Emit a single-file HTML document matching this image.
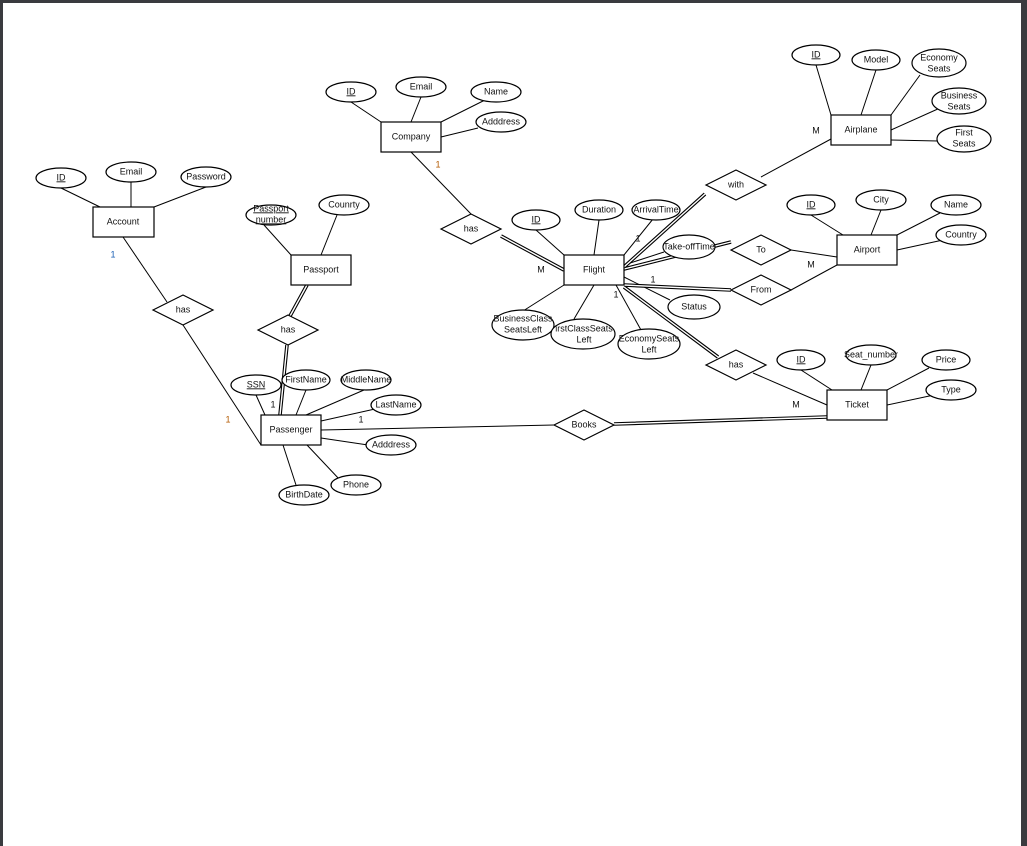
<!DOCTYPE html>
<html><head><meta charset="utf-8"><style>
html,body{margin:0;padding:0;background:#3a3b3f;}
svg{display:block;}
text{font-family:"Liberation Sans",sans-serif;font-size:9px;fill:#111;text-anchor:middle;dominant-baseline:middle;}
.e{fill:#fff;stroke:#000;stroke-width:1.2;}
.r{fill:#fff;stroke:#000;stroke-width:1.2;}
.l{stroke:#000;stroke-width:1;fill:none;}
.d1{stroke:#000;stroke-width:3.6;fill:none;}
.d2{stroke:#fff;stroke-width:1.4;fill:none;}
.b{fill:#1a5fb4;}
.o{fill:#b35900;}
</style></head><body>
<svg width="1027" height="846" viewBox="0 0 1027 846" xmlns="http://www.w3.org/2000/svg">
<rect x="3" y="3" width="1018" height="843" fill="#fff"/>
<!-- single lines -->
<g class="l">
<line x1="61" y1="188" x2="100" y2="207"/><line x1="131" y1="182" x2="131" y2="207"/><line x1="206" y1="187" x2="154" y2="207"/>
<line x1="123" y1="237" x2="167" y2="302"/><line x1="183" y1="325" x2="261" y2="445"/>
<line x1="351" y1="102" x2="381" y2="122"/><line x1="421" y1="97" x2="411" y2="122"/><line x1="485" y1="100" x2="441" y2="122"/><line x1="478" y1="128" x2="441" y2="137"/>
<line x1="411" y1="152" x2="471" y2="214"/>
<line x1="264" y1="225" x2="291" y2="255"/><line x1="337" y1="215" x2="321" y2="255"/>
<line x1="536" y1="230" x2="564" y2="255"/><line x1="599" y1="220" x2="594" y2="255"/><line x1="653" y1="219" x2="624" y2="255"/>
<line x1="664" y1="252" x2="624" y2="265"/><line x1="624" y1="277" x2="670" y2="300"/>
<line x1="564" y1="285" x2="523" y2="311"/><line x1="594" y1="285" x2="574" y2="319"/><line x1="616" y1="285" x2="641" y2="330"/>
<line x1="816" y1="65" x2="831" y2="115"/><line x1="876" y1="70" x2="861" y2="115"/><line x1="920" y1="75" x2="891" y2="115"/><line x1="940" y1="108" x2="891" y2="130"/><line x1="891" y1="140" x2="938" y2="141"/>
<line x1="831" y1="139" x2="761" y2="177"/>
<line x1="811" y1="215" x2="843" y2="235"/><line x1="881" y1="210" x2="871" y2="235"/><line x1="940" y1="213" x2="897" y2="235"/><line x1="943" y1="240" x2="897" y2="250"/>
<line x1="791" y1="250" x2="837" y2="257"/><line x1="791" y1="290" x2="837" y2="265"/>
<line x1="801" y1="370" x2="832" y2="390"/><line x1="871" y1="365" x2="861" y2="390"/><line x1="929" y1="368" x2="887" y2="390"/><line x1="934" y1="395" x2="887" y2="405"/>
<line x1="753" y1="373" x2="827" y2="405"/>
<line x1="256" y1="395" x2="265" y2="415"/><line x1="306" y1="390" x2="296" y2="415"/><line x1="364" y1="390" x2="306" y2="415"/><line x1="375" y1="409" x2="321" y2="421"/>
<line x1="321" y1="438" x2="368" y2="445"/><line x1="307" y1="445" x2="340" y2="480"/><line x1="283" y1="445" x2="296" y2="485"/>
<line x1="321" y1="430" x2="554" y2="425"/>
</g>
<!-- double lines -->
<g>
<path class="d1" d="M307 285 L290 316 M287 345 L280 415 M501 236 L564 270 M624 267 L705 194 M624 269 L731 242 M624 285 L731 290 M624 287 L718 357 M614 424 L827 417"/>
<path class="d2" d="M307 285 L290 316 M287 345 L280 415 M501 236 L564 270 M624 267 L705 194 M624 269 L731 242 M624 285 L731 290 M624 287 L718 357 M614 424 L827 417"/>
</g>
<!-- entities -->
<g class="r">
<rect x="93" y="207" width="61" height="30"/><rect x="381" y="122" width="60" height="30"/><rect x="291" y="255" width="60" height="30"/>
<rect x="564" y="255" width="60" height="30"/><rect x="831" y="115" width="60" height="30"/><rect x="837" y="235" width="60" height="30"/>
<rect x="827" y="390" width="60" height="30"/><rect x="261" y="415" width="60" height="30"/>
</g>
<!-- diamonds -->
<g class="r">
<polygon points="153,310 183,295 213,310 183,325"/><polygon points="258,330 288,315 318,330 288,345"/>
<polygon points="441,229 471,214 501,229 471,244"/><polygon points="706,185 736,170 766,185 736,200"/>
<polygon points="731,250 761,235 791,250 761,265"/><polygon points="731,290 761,275 791,290 761,305"/>
<polygon points="706,365 736,350 766,365 736,380"/><polygon points="554,425 584,410 614,425 584,440"/>
</g>
<!-- ellipses -->
<g class="e">
<ellipse cx="61" cy="178" rx="25" ry="10"/><ellipse cx="131" cy="172" rx="25" ry="10"/><ellipse cx="206" cy="177" rx="25" ry="10"/>
<ellipse cx="351" cy="92" rx="25" ry="10"/><ellipse cx="421" cy="87" rx="25" ry="10"/><ellipse cx="496" cy="92" rx="25" ry="10"/><ellipse cx="501" cy="122" rx="25" ry="10"/>
<ellipse cx="271" cy="215" rx="25" ry="10"/><ellipse cx="344" cy="205" rx="25" ry="10"/>
<ellipse cx="536" cy="220" rx="24" ry="10"/><ellipse cx="599" cy="210" rx="24" ry="10"/><ellipse cx="656" cy="210" rx="24" ry="10"/><ellipse cx="689" cy="247" rx="26" ry="12"/><ellipse cx="694" cy="307" rx="26" ry="12"/>
<ellipse cx="523" cy="325" rx="31" ry="15"/><ellipse cx="583" cy="334" rx="32" ry="15"/><ellipse cx="649" cy="344" rx="31" ry="15"/>
<ellipse cx="816" cy="55" rx="24" ry="10"/><ellipse cx="876" cy="60" rx="24" ry="10"/><ellipse cx="939" cy="63" rx="27" ry="14"/><ellipse cx="959" cy="101" rx="27" ry="13"/><ellipse cx="964" cy="139" rx="27" ry="13"/>
<ellipse cx="811" cy="205" rx="24" ry="10"/><ellipse cx="881" cy="200" rx="25" ry="10"/><ellipse cx="956" cy="205" rx="25" ry="10"/><ellipse cx="961" cy="235" rx="25" ry="10"/>
<ellipse cx="801" cy="360" rx="24" ry="10"/><ellipse cx="871" cy="355" rx="25" ry="10"/><ellipse cx="946" cy="360" rx="24" ry="10"/><ellipse cx="951" cy="390" rx="25" ry="10"/>
<ellipse cx="256" cy="385" rx="25" ry="10"/><ellipse cx="306" cy="380" rx="24" ry="10"/><ellipse cx="366" cy="380" rx="25" ry="10"/><ellipse cx="396" cy="405" rx="25" ry="10"/>
<ellipse cx="391" cy="445" rx="25" ry="10"/><ellipse cx="356" cy="485" rx="25" ry="10"/><ellipse cx="304" cy="495" rx="25" ry="10"/>
</g>
<!-- labels -->
<g>
<text x="123" y="222">Account</text><text x="411" y="137">Company</text><text x="321" y="270">Passport</text><text x="594" y="270">Flight</text>
<text x="861" y="130">Airplane</text><text x="867" y="250">Airport</text><text x="857" y="405">Ticket</text><text x="291" y="430">Passenger</text>
<text x="183" y="310">has</text><text x="288" y="330">has</text><text x="471" y="229">has</text><text x="736" y="185">with</text>
<text x="761" y="250">To</text><text x="761" y="290">From</text><text x="736" y="365">has</text><text x="584" y="425">Books</text>
<text x="61" y="178" text-decoration="underline">ID</text><text x="131" y="172">Email</text><text x="206" y="177">Password</text>
<text x="351" y="92" text-decoration="underline">ID</text><text x="421" y="87">Email</text><text x="496" y="92">Name</text><text x="501" y="122">Adddress</text>
<text x="271" y="209" text-decoration="underline">Passport</text><text x="271" y="220" text-decoration="underline">number</text><text x="344" y="205">Counrty</text>
<text x="536" y="220" text-decoration="underline">ID</text><text x="599" y="210">Duration</text><text x="656" y="210">ArrivalTime</text><text x="689" y="247">Take-offTime</text><text x="694" y="307">Status</text>
<text x="523" y="319">BusinessClass</text><text x="523" y="330">SeatsLeft</text><text x="584" y="329">irstClassSeats</text><text x="584" y="340">Left</text><text x="649" y="339">EconomySeats</text><text x="649" y="350">Left</text>
<text x="816" y="55" text-decoration="underline">ID</text><text x="876" y="60">Model</text><text x="939" y="58">Economy</text><text x="939" y="69">Seats</text>
<text x="959" y="96">Business</text><text x="959" y="107">Seats</text><text x="964" y="133">First</text><text x="964" y="144">Seats</text>
<text x="811" y="205" text-decoration="underline">ID</text><text x="881" y="200">City</text><text x="956" y="205">Name</text><text x="961" y="235">Country</text>
<text x="801" y="360" text-decoration="underline">ID</text><text x="871" y="355">Seat_number</text><text x="946" y="360">Price</text><text x="951" y="390">Type</text>
<text x="256" y="385" text-decoration="underline">SSN</text><text x="306" y="380">FirstName</text><text x="366" y="380">MiddleName</text><text x="396" y="405">LastName</text>
<text x="391" y="445">Adddress</text><text x="356" y="485">Phone</text><text x="304" y="495">BirthDate</text>
<text class="b" x="113" y="255">1</text><text class="o" x="438" y="165">1</text><text x="541" y="270">M</text><text x="816" y="131">M</text>
<text x="638" y="239">1</text><text x="811" y="265">M</text><text x="653" y="280">1</text><text x="616" y="295">1</text>
<text x="796" y="405">M</text><text class="o" x="228" y="420">1</text><text x="273" y="405">1</text><text x="361" y="420">1</text>
</g>
</svg>
</body></html>
